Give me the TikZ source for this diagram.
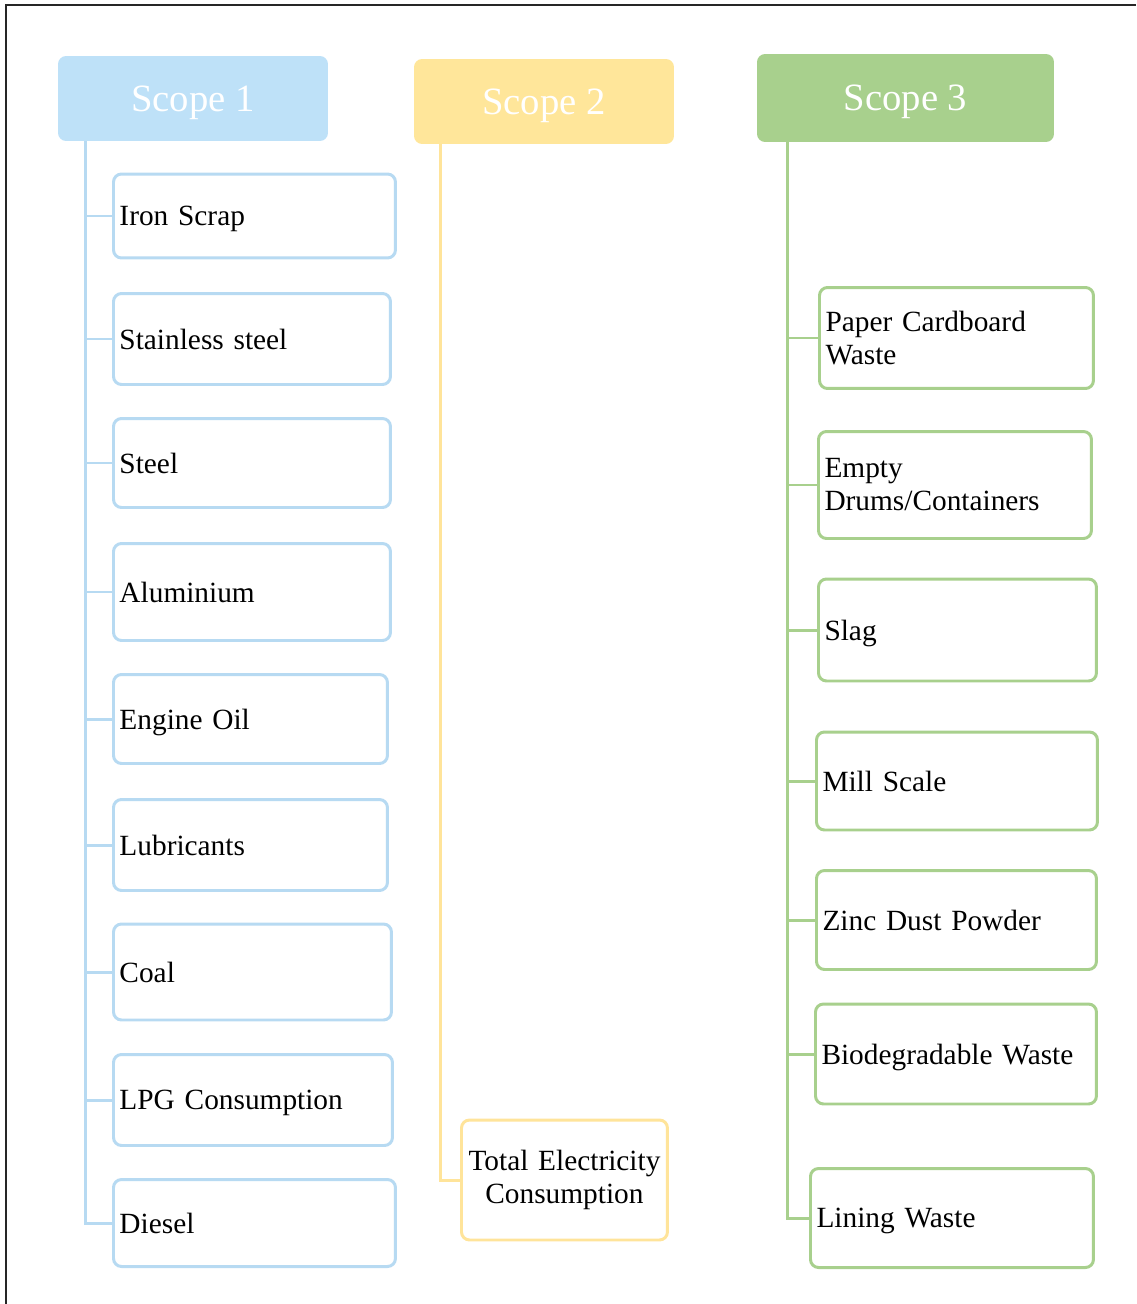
\documentclass[tikz,border=0pt]{standalone}
\usepackage{fontspec}
\setmainfont{Liberation Serif}
\usetikzlibrary{calc}
\definecolor{bfill}{HTML}{BEE1F8}
\definecolor{bline}{HTML}{B7DAF2}
\definecolor{yfill}{HTML}{FFE69A}
\definecolor{yline}{HTML}{FFE49A}
\definecolor{gfill}{HTML}{A8D08D}
\definecolor{gline}{HTML}{A8D08D}
\newcommand\itemfont{\fontsize{16.7}{18.8}\selectfont}
\newcommand\hdrfont{\fontsize{22}{24}\selectfont}
\begin{document}
\begin{tikzpicture}[x=0.02cm,y=-0.02cm,
  hdr/.style={rounded corners=0.16cm, text=white, font=\hdrfont, inner sep=0pt, text depth=0pt},
  item/.style={draw, line width=1.7pt, rounded corners=0.16cm, fill=white, anchor=west,
    inner xsep=0.12cm, inner ysep=0pt, align=left, font=\itemfont, text=black},
  oneline/.style={item, text depth=0pt},
  conn/.style={line width=1.7pt}]
\useasboundingbox (0,0) rectangle (1136,1304);
\draw[line width=1.1pt, black!85] (1136,5) -- (6,5) -- (6,1304);

% headers
\node[hdr, fill=bfill, minimum width=5.40cm, minimum height=1.70cm] (s1) at (193,98.5) {Scope 1};
\node[hdr, fill=yfill, minimum width=5.20cm, minimum height=1.70cm] (s2) at (544,101.5) {Scope 2};
\node[hdr, fill=gfill, minimum width=5.94cm, minimum height=1.76cm] (s3) at (905.5,98) {Scope 3};

% scope 1 items
\begin{scope}[every node/.append style={draw=bline}]
\node[oneline, text width=5.40cm, minimum height=1.68cm] (a1) at (112,216) {Iron Scrap};
\node[oneline, text width=5.30cm, minimum height=1.82cm] (a2) at (112,339) {Stainless steel};
\node[oneline, text width=5.30cm, minimum height=1.78cm] (a3) at (112,463) {Steel};
\node[oneline, text width=5.30cm, minimum height=1.94cm] (a4) at (112,592) {Aluminium};
\node[oneline, text width=5.24cm, minimum height=1.78cm] (a5) at (112,719) {Engine Oil};
\node[oneline, text width=5.24cm, minimum height=1.82cm] (a6) at (112,845) {Lubricants};
\node[oneline, text width=5.32cm, minimum height=1.92cm] (a7) at (112,972) {Coal};
\node[oneline, text width=5.34cm, minimum height=1.82cm] (a8) at (112,1100) {LPG Consumption};
\node[oneline, text width=5.40cm, minimum height=1.74cm] (a9) at (112,1223) {Diesel};
\end{scope}

% scope 2 item
\node[item, draw=yline, align=center, text width=3.88cm, minimum height=2.40cm] (b1) at (460,1180) {Total Electricity\\Consumption};

% scope 3 items
\begin{scope}[every node/.append style={draw=gline}]
\node[item, text width=5.24cm, minimum height=2.02cm] (c1) at (818,338) {Paper Cardboard\\Waste};
\node[item, text width=5.22cm, minimum height=2.14cm] (c2) at (817,485) {Empty\\Drums/Containers};
\node[oneline, text width=5.32cm, minimum height=2.04cm] (c3) at (817,630) {Slag};
\node[oneline, text width=5.38cm, minimum height=1.96cm] (c4) at (815,781) {Mill Scale};
\node[oneline, text width=5.36cm, minimum height=1.98cm] (c5) at (815,920) {Zinc Dust Powder};
\node[oneline, text width=5.38cm, minimum height=2.00cm] (c6) at (814,1054) {Biodegradable Waste};
\node[oneline, text width=5.42cm, minimum height=1.98cm] (c7) at (809,1218) {Lining Waste};
\end{scope}

% connectors
\foreach \n in {a1,a2,a3,a4,a5,a6,a7,a8,a9}
  \draw[conn, bline] ($(s1.south west)+(28,0)$) |- (\n.west);
\draw[conn, yline] ($(s2.south west)+(27,0)$) |- (b1.west);
\foreach \n in {c1,c2,c3,c4,c5,c6,c7}
  \draw[conn, gline] ($(s3.south west)+(31,0)$) |- (\n.west);
\end{tikzpicture}
\end{document}
